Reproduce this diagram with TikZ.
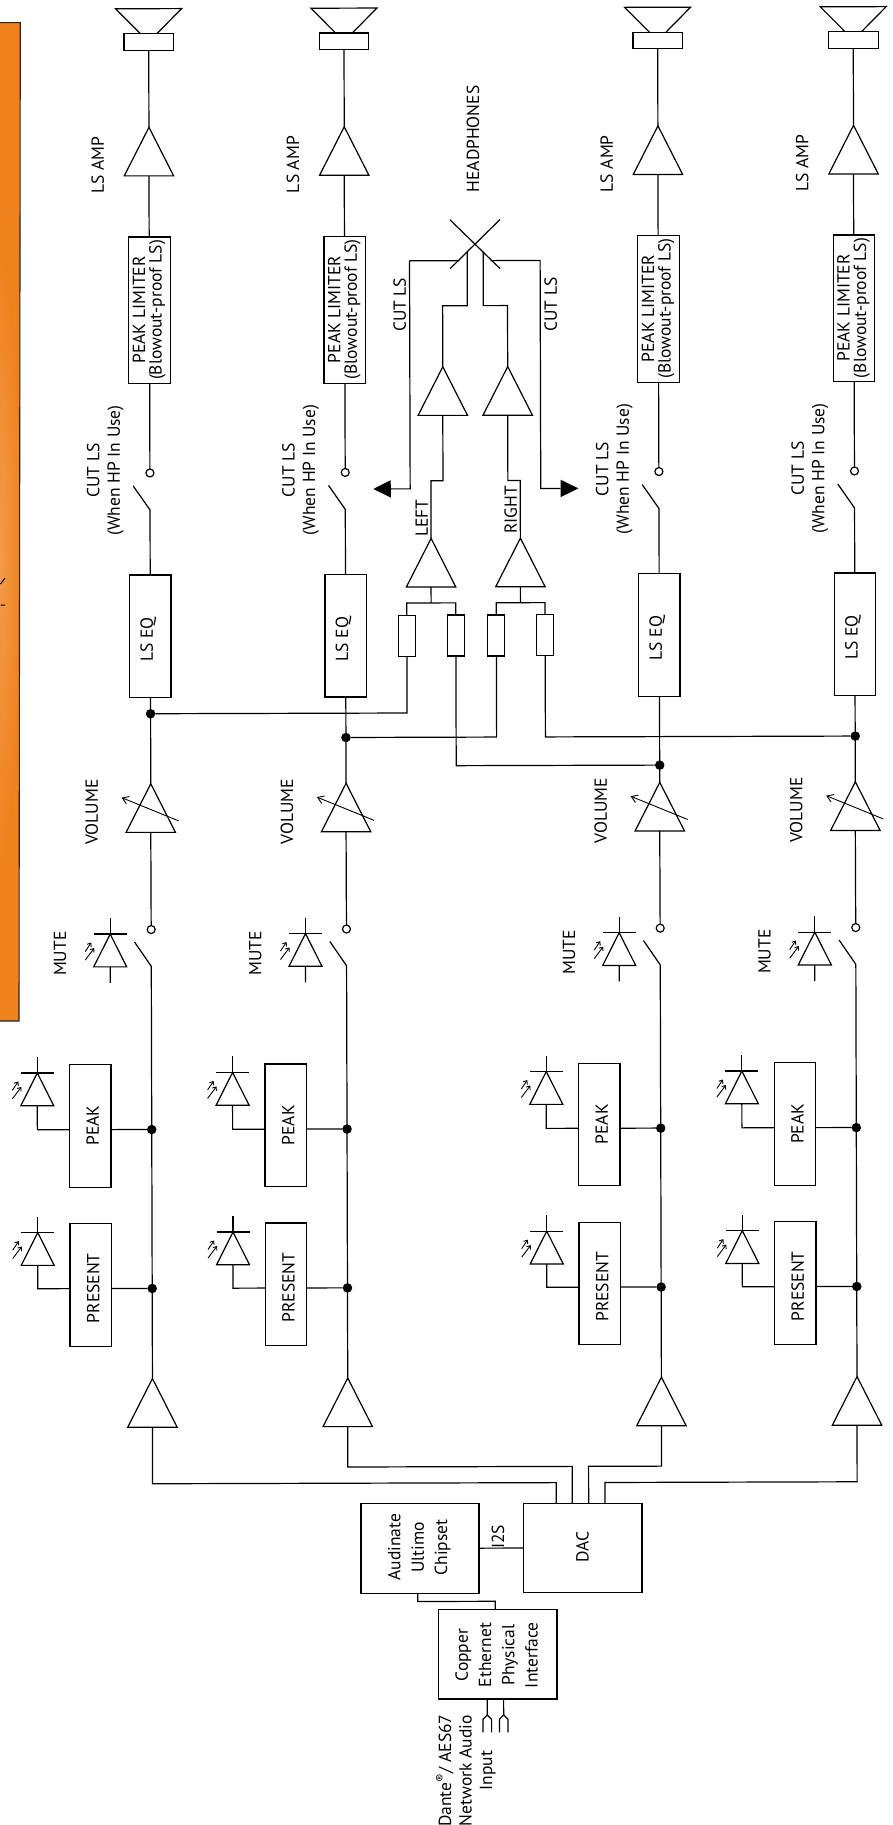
\documentclass[tikz,border=0pt]{standalone}
\usepackage{fontspec}
\setmainfont{PT Sans}
\usetikzlibrary{arrows.meta}
\definecolor{panelorange}{HTML}{F0821E}
\definecolor{panelglow}{HTML}{F39B4C}
\tikzset{
	wire/.style={line width=1.2pt, line join=miter},
	lbl/.style={rotate=90, align=center, inner sep=0pt, font=\fontsize{17.5}{20.5}\selectfont},
	chiplbl/.style={lbl, font=\fontsize{17.5}{23.3}\selectfont},
	limitlbl/.style={lbl, font=\fontsize{17.5}{16.5}\selectfont},
	bx/.style={draw, line width=1.2pt, inner sep=0pt, outer sep=0pt},
	wbox/.style={bx, minimum width=41.4pt, minimum height=122.6pt},
	resbox/.style={bx, minimum width=17pt, minimum height=41pt},
	dot/.style={circle, fill=black, inner sep=0pt, outer sep=0pt, minimum size=9.5pt},
	opendot/.style={circle, draw, fill=white, line width=1.2pt, inner sep=0pt, outer sep=0pt, minimum size=8pt},
	ampsym/.pic={
		\draw[wire] (0,0) coordinate (-apex) -- (-24.7,48.6) -- (24.7,48.6) -- cycle;
		\coordinate (-base) at (0,48.6);
	},
	ledsym/.pic={
		\draw[wire] (0,-16) -- (0,0) coordinate (-top);
		\draw[wire] (-16.5,0) -- (16.5,0);
		\draw[wire] (0,0) -- (-16.5,32.8) -- (16.5,32.8) -- cycle;
		\coordinate (-base) at (0,32.8);
		\draw[line width=.9pt, -{Straight Barb[length=3pt,width=5pt]}] (-25,17.5) -- (-19,8.5);
		\draw[line width=.9pt, -{Straight Barb[length=3pt,width=5pt]}] (-25,26) -- (-16,14);
	}
}
\begin{document}
\begin{tikzpicture}[x=1pt,y=-1pt]
	\useasboundingbox (0,0) rectangle (893,1825);

	% side panel
	\fill[panelorange] (-2,22.7) -- (20.3,22.7) -- (19,1021) -- (-2,1021) -- cycle;
	\begin{scope}
		\clip (-2,22.7) -- (20.3,22.7) -- (19,1021) -- (-2,1021) -- cycle;
		\shade[inner color=panelglow, outer color=panelorange] (0,560) ellipse (20 and 300);
	\end{scope}
	\draw[line width=1.1pt, black!85] (-2,22.7) -- (20.3,22.7) -- (19,1021) -- (-2,1021);
	\draw[line width=1pt] (5,578) -- (.5,584) (.5,605) -- (5,605);

	\begin{scope}[rotate=.16]

	% four loudspeaker channels
	\foreach \ch/\cx/\jy in {a/148.6/714.2, b/343.9/738.5, c/657.6/767, d/853.2/738.5} {
		% speaker
		\draw[wire] (\cx-8.3,34) -- (\cx-33,9.1) -- (\cx+33,9.1) -- (\cx+8.3,34);
		\node[bx, minimum width=49.6pt, minimum height=16.6pt] (spk\ch) at (\cx,42.3) {};
		\pic (lsamp\ch) at (\cx,127.7) {ampsym};
		\node[lbl] (lsamplbl\ch) at (\cx-51.4,165.4) {LS AMP};
		\node[bx, minimum width=41.4pt, minimum height=146.8pt] (limit\ch) at (\cx,310.8) {};
		\node[limitlbl] (limitlbl\ch) at (\cx-.5,310.4) {PEAK LIMITER\\(Blowout-proof LS)};
		\node[opendot] (cut\ch) at (\cx,473.4) {};
		\coordinate (cutarm\ch) at (\cx,510.4);
		\node[lbl] (cutlbl\ch) at (\cx-44.6,470.8) {CUT LS\\(When HP In Use)};
		\node[bx, minimum width=41.4pt, minimum height=122.6pt] (eq\ch) at (\cx,636.7) {};
		\node[lbl] (eqlbl\ch) at (\cx-2.1,640) {LS EQ};
		\node[dot] (jct\ch) at (\cx,\jy) {};
		\pic (vol\ch) at (\cx,784.2) {ampsym};
		\draw[line width=.9pt, -{Straight Barb[length=6pt,width=8pt]}] (\cx+27.8,821.4) -- (\cx-29.2,798);
		\node[lbl] (vollbl\ch) at (\cx-59.2,812.4) {VOLUME};
		\node[opendot] (mute\ch) at (\cx,930) {};
		\coordinate (mutearm\ch) at (\cx,966.8);
		\pic (muteled\ch) at (\cx-41,934.4) {ledsym};
		\draw[wire] (muteled\ch-base) -- ++(0,16);
		\node[lbl] (mutelbl\ch) at (\cx-91.3,953.9) {MUTE};
		% meters
		\node[wbox] (peak\ch) at (\cx-61.4,1126.1) {};
		\node[lbl] at (\cx-59,1126) (peaklbl\ch) {PEAK};
		\node[dot] (peakjct\ch) at (\cx,1130) {};
		\pic (peakled\ch) at (\cx-114.3,1073.1) {ledsym};
		\node[wbox] (pres\ch) at (\cx-61.4,1285.2) {};
		\node[lbl] at (\cx-59,1288.5) (preslbl\ch) {PRESENT};
		\node[dot] (presjct\ch) at (\cx,1288.9) {};
		\pic (presled\ch) at (\cx-114.3,1232.7) {ledsym};
		\pic (input\ch) at (\cx,1379) {ampsym};
		% signal path
		\draw[wire] (spk\ch) -- (lsamp\ch-apex);
		\draw[wire] (lsamp\ch-base) -- (limit\ch);
		\draw[wire] (limit\ch) -- (cut\ch);
		\draw[wire] ([shift={(-16.7,13)}]cut\ch.center) -- (cutarm\ch) -- (eq\ch);
		\draw[wire] (eq\ch) -- (vol\ch-apex);
		\draw[wire] (vol\ch-base) -- (mute\ch);
		\draw[wire] ([shift={(-16.7,12.4)}]mute\ch.center) -- (mutearm\ch) -- (input\ch-apex);
		\draw[wire] (peakjct\ch) -- (peakjct\ch -| peak\ch.east);
		\draw[wire] (peakjct\ch -| peak\ch.west) -| (peakled\ch-base);
		\draw[wire] (presjct\ch) -- (presjct\ch -| pres\ch.east);
		\draw[wire] (presjct\ch -| pres\ch.west) -| (presled\ch-base);
	}

	% source
	\node[bx, minimum width=118.7pt, minimum height=89.4pt] (dac) at (578.4,1549.6) {};
	\node[lbl] (daclbl) at (578.3,1548.6) {DAC};
	\node[bx, minimum width=118pt, minimum height=89.7pt] (ultimo) at (415.7,1549.7) {};
	\node[chiplbl] (ultimolbl) at (415,1548.5) {Audinate\\Ultimo\\Chipset};
	\node[bx, minimum width=118.7pt, minimum height=89.8pt] (phy) at (493,1655.5) {};
	\node[chiplbl] (phylbl) at (492,1656.5) {Copper\\Ethernet\\Physical\\Interface};
	\node[lbl] (i2slbl) at (493.7,1538.2) {I2S};
	\draw[wire] (ultimo) -- (dac);
	\coordinate (phyin) at (490.8,1610.6);
	\coordinate (ultout) at (413.4,1594.6);
	\draw[wire] (ultout) |- (490.8,1602.7) -- (phyin);
	\draw[wire] (inputa-base) |- (552.1,1484.2) -- (552.1,1504.9);
	\draw[wire] (inputb-base) |- (568.1,1468) -- (568.1,1504.9);
	\draw[wire] (inputc-base) |- (584.5,1468) -- (584.5,1504.9);
	\draw[wire] (inputd-base) |- (600.8,1484.2) -- (600.8,1504.9);

	% network input
	\foreach \jk/\jx in {m/482.5, n/498.9} {
		\coordinate (jack\jk) at (\jx,1716.4);
		\draw[wire] (\jx,1700.4) -- (jack\jk);
		\draw[wire] (\jx-4.3,1733.7) -- (\jx-4.3,1720.7) -- (jack\jk) -- (\jx+4.3,1720.7) -- (\jx+4.3,1733.7);
	}
	\node[lbl] (inlbl) at (461,1772) {Dante\textsuperscript{®}/ AES67\\Network Audio\\Input};

	% headphone feed
	\node[resbox] (resal) at (405.1,636.8) {};
	\node[resbox] (resar) at (454.1,636.8) {};
	\node[resbox] (resbl) at (494.6,636.8) {};
	\node[resbox] (resbr) at (543.4,636.8) {};
	\pic (hpl) at (429.6,539.6) {ampsym};
	\pic (hpr) at (518.9,539.6) {ampsym};
	\pic (hpol) at (441.8,368) {ampsym};
	\pic (hpor) at (506.7,368) {ampsym};
	\draw[wire] (hpl-base) -- ++(0,16) coordinate (hplbar);
	\draw[wire] (hpr-base) -- ++(0,16) coordinate (hprbar);
	\draw[wire] (resal) |- (hplbar) -| (resar);
	\draw[wire] (resbl) |- (hprbar) -| (resbr);
	\draw[wire] (jcta) -| (resal);
	\draw[wire] (jctc) -| (resar);
	\draw[wire] (jctb) -| (resbl);
	\draw[wire] (jctd) -| (resbr);
	\draw[wire] (hpl-apex) |- (hpol-base |- 0,482) -- (hpol-base);
	\draw[wire] (hpr-apex) |- (hpor-base |- 0,482) -- (hpor-base);

	% headphone jack
	\coordinate (jack) at (474.3,245.6);
	\draw[wire] (449.3,221) -- (499.3,270) (499.3,221) -- (449.3,270);
	\draw[wire] (hpol-apex) |- (466.5,307) -- (466.5,253);
	\draw[wire] (hpor-apex) |- (482.5,307) -- (482.5,253);
	\node[lbl] (hplbl) at (472.6,140.3) {HEADPHONES};
	\node[lbl] (hplftlbl) at (420.3,519.3) {LEFT};
	\node[lbl] (hprgtlbl) at (509.3,511.3) {RIGHT};

	% cut signal
	\coordinate (cutl) at (458.6,262);
	\coordinate (cutr) at (490,262);
	\draw[wire] (cutl) -- (408.8,262) -- (408.8,490) -- (389.4,490);
	\draw[wire] (cutr) -- (539.4,262) -- (539.4,490) -- (559.3,490);
	\fill (372,490) -- (389.4,481.3) -- (389.4,498.7) -- cycle;
	\fill (577,490) -- (559.3,481.3) -- (559.3,498.7) -- cycle;
	\node[lbl] (cutllbl) at (399,306) {CUT LS};
	\node[lbl] (cutrlbl) at (549.8,306) {CUT LS};

	\end{scope}
\end{tikzpicture}
\end{document}
